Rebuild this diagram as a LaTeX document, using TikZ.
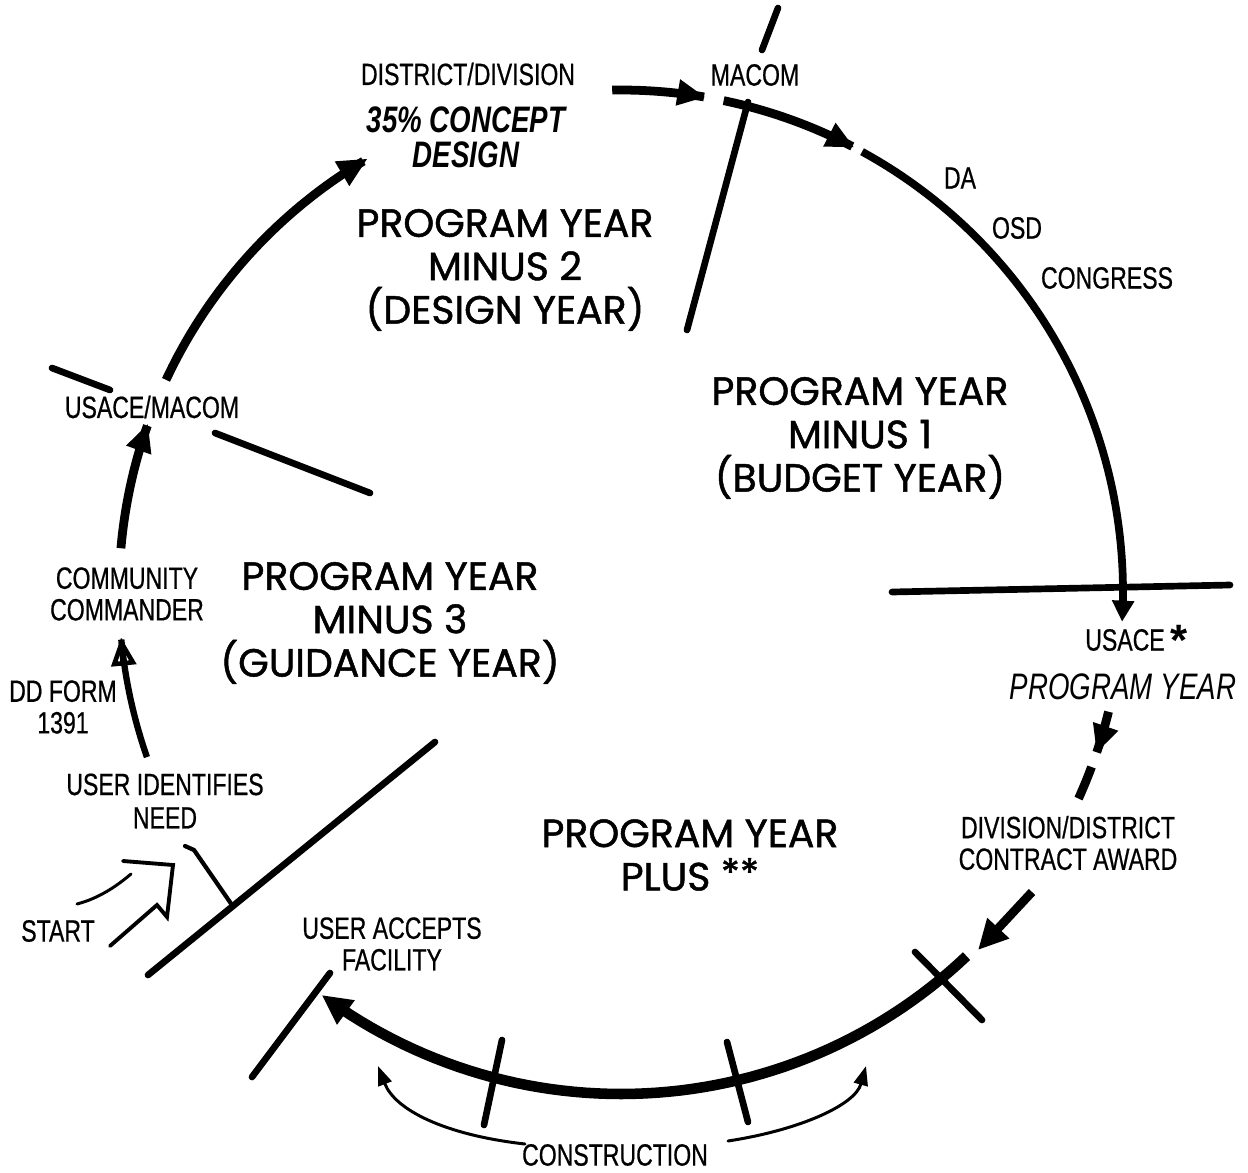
\documentclass[tikz,border=0pt]{standalone}
\usepackage{fontspec}
\setmainfont{Liberation Sans}
\newfontfamily\bigfont[FakeBold=1.2]{Poppins}
\newfontfamily\condfont[FakeStretch=0.75,FakeBold=0.6]{Liberation Sans}
\newfontfamily\italfont[FakeStretch=0.75]{Liberation Sans}
\usetikzlibrary{arrows.meta}
\newcommand{\ringarc}[3][]{\draw[#1] plot[domain=#2:#3,samples=60] ({621+502*cos(\x)},{592+502*sin(\x)});}
\begin{document}
\begin{tikzpicture}[x=0.02cm,y=-0.02cm,
  small/.style={font=\condfont\fontsize{17.5}{18}\selectfont, align=center, inner sep=0pt},
  big/.style={font=\bigfont\fontsize{22.4}{24.7}\selectfont, align=center, inner sep=0pt},
  ital/.style={font=\italfont\itshape\fontsize{21}{21}\selectfont, align=center, inner sep=0pt},
  ring/.style={line width=5pt},
  divider/.style={line width=3.8pt, line cap=round},
  thinline/.style={line width=1.7pt, line cap=round},
  bigtip/.style={-{Triangle[length=16pt,width=14pt]}},
  smalltip/.style={-{Triangle[length=11pt,width=8pt]}},
]
\useasboundingbox (0,0) rectangle (1248,1173);

% ---------- text labels ----------
\node[small] (dist) at (468,74) {DISTRICT/DIVISION};
\node[ital, font=\italfont\bfseries\itshape\fontsize{21}{21}\selectfont] (concept) at (466,137) {35\% CONCEPT\\[-1pt]DESIGN};
\node[big] (py2) at (505,270) {PROGRAM YEAR\\MINUS 2\\(DESIGN YEAR)};
\node[small] (macom) at (755,75) {MACOM};
\node[small] (da) at (960,178) {DA};
\node[small] (osd) at (1017,228) {OSD};
\node[small] (congress) at (1107,278) {CONGRESS};
\node[big] (py1) at (860,438) {PROGRAM YEAR\\MINUS 1\\(BUDGET YEAR)};
\node[big] (py3) at (390,623) {PROGRAM YEAR\\MINUS 3\\(GUIDANCE YEAR)};
\node[big] (pyplus) at (690,855) {PROGRAM YEAR\\PLUS \raisebox{2pt}{**}};
\node[small] (usacemacom) at (152,407) {USACE/MACOM};
\node[small] (cc) at (127,594) {COMMUNITY\\COMMANDER};
\node[small] (dd) at (63,707) {DD FORM\\1391};
\node[small] (uin) at (165,801) {USER IDENTIFIES\\[1pt]NEED};
\node[small] (start) at (58,931) {START};
\node[small] (uaf) at (392,944) {USER ACCEPTS\\FACILITY};
\node[small] (construction) at (615,1155) {CONSTRUCTION};
\node[small] (usace) at (1125,640) {USACE};
\node[font=\bfseries\fontsize{25}{25}\selectfont, inner sep=0pt] (star) at (1179,640) {*};
\node[ital] (pyit) at (1123,687) {PROGRAM YEAR};
\node[small] (award) at (1068,843) {DIVISION/DISTRICT\\CONTRACT AWARD};

% ---------- dividers ----------
\draw[divider] (778,8) -- (762,50);
\draw[divider] (748,102) -- (687,330);
\draw[divider] (52,368) -- (110,390);
\draw[divider] (215,433) -- (370,493);
\draw[divider] (892,592) -- (1230,585);
\draw[divider] (148,975) -- (435,742);
\draw[divider] (915,952) -- (982,1020);
\draw[divider] (330,973) -- (252,1077);
\draw[divider] (502,1040) -- (484,1125);
\draw[divider] (727,1042) -- (748,1122);
\draw[line width=2.4pt, line cap=round, line join=round] (185,846) -- (194,850) -- (232,905);

% ---------- the ring ----------
\ringarc[line width=3.6pt, -{Triangle[open, length=16pt, width=14pt, line width=2.6pt]}]{160.8}{174.8}
\ringarc[ring, bigtip]{185}{199.6}
\ringarc[ring, -{Triangle[length=17pt,width=15pt]}]{205}{239.7}
\ringarc[ring, bigtip]{269}{279.7}
\ringarc[ring, bigtip]{281.8}{297.7}
\ringarc[line width=4.4pt, -{Triangle[length=12pt,width=12pt]}]{298.7}{363.4}
\ringarc[ring, bigtip]{13.8}{18.7}
\ringarc[ring]{20.4}{24.3}
\draw[ring, -{Triangle[length=17pt,width=16pt]}] (1032,892) -- (978,950);
\ringarc[line width=6pt, -{Triangle[length=17pt,width=16pt]}]{46.5}{126.6}

% ---------- START arrow ----------
\draw[thinline] (77,904) .. controls (100,898) and (118,885) .. (131,874);
\draw[line width=2.2pt, line cap=round, line join=miter] (110,946) -- (157,905) -- (167,917) -- (173,865) -- (123,861);

% ---------- CONSTRUCTION arrows ----------
\coordinate (cl) at (525,1144);
\coordinate (cr) at (728,1141);
\draw[thinline, smalltip] (cl) .. controls (445,1135) and (395,1110) .. (378,1066);
\draw[thinline, smalltip] (cr) .. controls (800,1130) and (855,1105) .. (866,1066);
\end{tikzpicture}
\end{document}
